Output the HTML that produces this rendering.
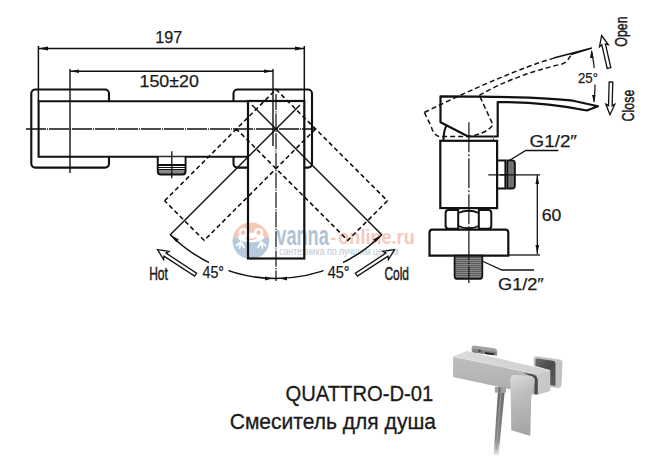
<!DOCTYPE html>
<html><head><meta charset="utf-8">
<style>
html,body{margin:0;padding:0;background:#fff;}
body{width:650px;height:474px;overflow:hidden;}
svg{display:block;}
text{font-family:"Liberation Sans",sans-serif;}
</style></head>
<body>
<svg width="650" height="474" viewBox="0 0 650 474">
<defs>
<linearGradient id="gTop" x1="0" y1="0" x2="1" y2="0">
<stop offset="0" stop-color="#d9d9d9"/><stop offset="1" stop-color="#bfbfbf"/>
</linearGradient>
</defs>
<rect width="650" height="474" fill="#fff"/>

<!-- ===== WATERMARK ===== -->
<g opacity="1">
  <clipPath id="cl"><circle cx="250.9" cy="240.8" r="18.4"/></clipPath>
  <g clip-path="url(#cl)">
    <rect x="230" y="220" width="45" height="18" fill="#f6c8b8"/>
    <rect x="230" y="238" width="45" height="24" fill="#b6cadb"/>
    <!-- frog face -->
    <ellipse cx="251" cy="237.5" rx="13" ry="4.8" fill="#fff"/>
    <circle cx="243.2" cy="232.6" r="4.6" fill="#fff"/>
    <circle cx="258.6" cy="232.6" r="4.6" fill="#fff"/>
    <circle cx="243.2" cy="232.6" r="2.3" fill="#f3c4b4"/>
    <circle cx="258.6" cy="232.6" r="2.3" fill="#f3c4b4"/>
    <path d="M245.5,237.8 Q251,240.8 256.5,237.8" stroke="#f0b4a2" stroke-width="1.2" fill="none"/>
    <path d="M241,242 L236.5,245.5 M241,242 L239.5,248 M241,242 L244,247.5" stroke="#fff" stroke-width="1.8" fill="none" stroke-linecap="round"/>
    <path d="M261,242 L265.5,245.5 M261,242 L262.5,248 M261,242 L258,247.5" stroke="#fff" stroke-width="1.8" fill="none" stroke-linecap="round"/>
  </g>
  <text x="276.3" y="244.5" font-size="27" font-weight="bold" textLength="52.5" lengthAdjust="spacingAndGlyphs" fill="#b0c3d5">vanna</text>
  <text x="330.2" y="244.2" font-size="19" font-weight="bold" textLength="6" lengthAdjust="spacingAndGlyphs" fill="#f4cabd">-</text>
  <text x="338.3" y="244.2" font-size="19.5" font-weight="bold" textLength="76.4" lengthAdjust="spacingAndGlyphs" fill="#f4cabd">online.ru</text>
  <text x="279.2" y="254.9" font-size="10" textLength="119.2" lengthAdjust="spacingAndGlyphs" fill="#b9c7d5">сантехника по лучшим ценам</text>
</g>

<!-- ===== FRONT VIEW ===== -->
<g fill="none" stroke="#111" stroke-linecap="butt">
  <!-- dimension 197 -->
  <line x1="38.4" y1="48.5" x2="304.3" y2="48.5" stroke-width="1.6"/>
  <line x1="38.4" y1="46" x2="38.4" y2="101" stroke-width="1.5"/>
  <line x1="304.3" y1="46" x2="304.3" y2="101" stroke-width="1.5"/>
  <!-- dimension 150 -->
  <line x1="70" y1="71.2" x2="273" y2="71.2" stroke-width="1.6"/>
  <line x1="70" y1="69" x2="70" y2="173" stroke-width="1.4"/>
  <line x1="273" y1="69" x2="273" y2="146" stroke-width="1.4"/>

  <!-- left flange -->
  <path d="M109,101.3 V93.5 A4,4 0 0 0 105,89.5 H35.3 A4,4 0 0 0 31.3,93.5 V163.6 A4,4 0 0 0 35.3,167.6 H105 A4,4 0 0 0 109,163.6 V156.8" stroke-width="2.1"/>
  <!-- body -->
  <path d="M248,101.3 H38.6 V156.8 H248" stroke-width="2.1"/>
  <!-- right flange -->
  <path d="M233.5,101.3 V93.5 A4,4 0 0 1 237.5,89.5 H308 A4,4 0 0 1 312,93.5 V163.6 A4,4 0 0 1 308,167.6 H304.3" stroke-width="2.1"/>
  <path d="M233.5,156.8 V163.6 A4,4 0 0 0 237.5,167.6 H248" stroke-width="2.1"/>
  <!-- lever rect -->
  <rect x="248" y="101" width="56.3" height="157.5" stroke-width="2.2"/>

  <!-- diagonals -->
  <line x1="252" y1="105" x2="382" y2="235" stroke-width="1.5"/>
  <line x1="300" y1="105" x2="170" y2="235" stroke-width="1.5"/>

  <!-- rotated dashed rectangles -->
  <path d="M164.6,200.8 L276,89.4 L387.4,200.8 L347.8,240.4 L236.4,129" stroke-width="1.6" stroke-dasharray="4.5 3"/>
  <path d="M315.6,129 L204.2,240.4 L164.6,200.8" stroke-width="1.6" stroke-dasharray="4.5 3"/>

  <!-- center lines -->
  <line x1="26" y1="129" x2="316" y2="129" stroke-width="1.6" stroke-dasharray="20 1 1 1"/>
  <line x1="276" y1="94" x2="276" y2="281" stroke-width="1.2" stroke-dasharray="16 1.2 1.2 1.2"/>

  <!-- arc -->
  <path d="M170.3,234.7 A149.5,149.5 0 0 0 381.7,234.7" stroke-width="1.5"/>

  <!-- nut -->
  <path d="M157.8,156.8 V171.6 Q157.8,174.6 160.8,174.6 H182.5 Q185.5,174.6 185.5,171.6 V156.8" stroke-width="2" fill="#888"/>
  <rect x="158.8" y="157.5" width="25.7" height="12.5" fill="#fff" stroke="none"/>
  <line x1="157.8" y1="165" x2="185.5" y2="165" stroke-width="2"/>
  <line x1="157.8" y1="167.5" x2="185.5" y2="167.5" stroke-width="1"/>
  <line x1="157.8" y1="169.5" x2="185.5" y2="169.5" stroke-width="1"/>
  <line x1="171.8" y1="151.3" x2="171.8" y2="178.3" stroke-width="1.3"/>
</g>
<!-- arrowheads -->
<g fill="#111">
  <polygon points="38.5,48.5 48,46.6 48,50.4"/>
  <polygon points="304,48.5 295,46.6 295,50.4"/>
  <polygon points="70.5,71.2 79,69.4 79,73"/>
  <polygon points="272.5,71.2 264,69.4 264,73"/>
  <polygon points="272,278.5 265,276.6 265,280.4"/>
  <polygon points="280,278.5 287,276.6 287,280.4"/>
</g>

<!-- texts front -->
<rect x="209" y="259" width="19.5" height="20" fill="#fff"/>
<rect x="323.5" y="259" width="19.5" height="20" fill="#fff"/>
<g fill="#111">
  <polygon points="170.3,234.7 178.8,239.5 176.3,242.2"/>
  <polygon points="381.7,234.7 373.2,239.5 375.7,242.2"/>
</g>
<g fill="#1b1b1b" stroke="#1b1b1b" stroke-width="0.25">
  <text x="155.3" y="43" font-size="17" textLength="27" lengthAdjust="spacingAndGlyphs">197</text>
  <text x="139.5" y="86.5" font-size="17" textLength="59.3" lengthAdjust="spacingAndGlyphs">150±20</text>
  <text x="149.2" y="279.5" font-size="18.5" textLength="18.7" lengthAdjust="spacingAndGlyphs" stroke-width="0.5">Hot</text>
  <text x="384.4" y="280" font-size="18.5" textLength="24.6" lengthAdjust="spacingAndGlyphs" stroke-width="0.5">Cold</text>
  <text x="202.5" y="278" font-size="15.7" textLength="21.5" lengthAdjust="spacingAndGlyphs">45°</text>
  <text x="327.7" y="278" font-size="15.7" textLength="22" lengthAdjust="spacingAndGlyphs">45°</text>
</g>

<!-- ===== SIDE VIEW ===== -->
<g fill="none" stroke="#111">
  <!-- handle + lever -->
  <path d="M440.5,122.3 V96.4 C500,96.4 545,97 573,100.7 L598,106.2 L586.9,110.5 C560,105 530,102 497.7,102 V136.5 H468.2 Z" stroke-width="2.2" stroke-linejoin="round"/>
  <path d="M443.5,140.5 Q443.5,131 446.5,125.5" stroke-width="2"/>
  <line x1="493.4" y1="136.5" x2="493.4" y2="140.8" stroke="#777" stroke-width="1.2"/>
  <!-- body -->
  <rect x="440.3" y="140.8" width="56.8" height="67.3" stroke-width="2.2"/>
  <!-- outlet -->
  <path d="M497,160.4 H505.4 V188.5 H497" stroke-width="2"/>
  <!-- hex nut -->
  <path d="M448.6,210 H458.2 V228.7 H448.6 Q445.6,228.7 445.6,225.7 V213 Q445.6,210 448.6,210 Z" stroke-width="2"/>
  <path d="M478.8,210 H488.3 Q491.3,210 491.3,213 V225.7 Q491.3,228.7 488.3,228.7 H478.8 Z" stroke-width="2"/>
  <path d="M458.2,213 Q468.8,208.5 478.8,213 M458.2,226 Q468.8,230.5 478.8,226" stroke-width="1.8"/>
  <!-- flange -->
  <path d="M432.5,229.6 H505.3 Q508.3,229.6 508.3,232.6 V255.6 H429.5 V232.6 Q429.5,229.6 432.5,229.6 Z" stroke-width="2.2"/>
  <!-- dimension 60 -->
  <line x1="488.3" y1="174.9" x2="540" y2="174.9" stroke-width="1.3"/>
  <line x1="508" y1="255" x2="540" y2="255" stroke-width="1.3"/>
  <line x1="537.3" y1="175" x2="537.3" y2="254" stroke-width="1.3"/>
  <!-- leaders -->
  <polyline points="509.2,160.5 525.8,150.5 558.4,150.5" stroke-width="1.3"/>
  <polyline points="482,261 502,270 534,270" stroke-width="1.3"/>
  <!-- dashed rotated handle -->
  <path d="M424.3,112.5 L431,126 Q434,136.5 440,136.5 H468 Q486,134 493,124.8 L479.3,95.3 M424.3,112.5 Q506.3,72.3 553.7,58.1 M479.3,95.3 Q514.6,75 562,64 Q568,62 571,54.4" stroke-width="1.5" stroke-dasharray="5 3"/>
  <polyline points="553.7,58.1 591.9,47.9 571,54.4" stroke-width="1.6"/>
  <!-- 25 deg arc -->
  <path d="M591.6,51 Q597,76 594,102" stroke-width="1.2"/>
</g>
<!-- outlet thread -->
<path d="M507.3,160.4 H511.9 Q514.9,160.4 514.9,163.4 V185.5 Q514.9,188.5 511.9,188.5 H507.3 Z" fill="#5c5c5c" stroke="#111" stroke-width="1.8"/>
<g stroke="#9a9a9a" stroke-width="0.6">
  <line x1="509.2" y1="161.5" x2="509.2" y2="187.5"/>
  <line x1="511" y1="161.5" x2="511" y2="187.5"/>
  <line x1="512.8" y1="161.5" x2="512.8" y2="187.5"/>
</g>
<!-- pipe thread -->
<path d="M454.6,255.6 V275.9 Q454.6,278.9 457.6,278.9 H479.3 Q482.3,278.9 482.3,275.9 V255.6 Z" fill="#5c5c5c" stroke="#111" stroke-width="1.8"/>
<g stroke="#a8a8a8" stroke-width="0.6">
  <line x1="455.5" y1="258.5" x2="481.4" y2="258.5"/>
  <line x1="455.5" y1="260.5" x2="481.4" y2="260.5"/>
  <line x1="455.5" y1="262.5" x2="481.4" y2="262.5"/>
  <line x1="455.5" y1="264.5" x2="481.4" y2="264.5"/>
  <line x1="455.5" y1="266.5" x2="481.4" y2="266.5"/>
  <line x1="455.5" y1="268.5" x2="481.4" y2="268.5"/>
  <line x1="455.5" y1="270.5" x2="481.4" y2="270.5"/>
  <line x1="455.5" y1="272.5" x2="481.4" y2="272.5"/>
  <line x1="455.5" y1="274.5" x2="481.4" y2="274.5"/>
  <line x1="455.5" y1="276.5" x2="481.4" y2="276.5"/>
</g>
<line x1="500" y1="174.9" x2="516" y2="174.9" stroke="#111" stroke-width="1.3"/>
<!-- side centerline -->
<line x1="468.9" y1="122.3" x2="468.9" y2="283" stroke="#111" stroke-width="1.2" stroke-dasharray="30 2 2 2"/>
<g fill="#111">
  <polygon points="537.3,175 535.5,184 539.1,184"/>
  <polygon points="537.3,254 535.5,245 539.1,245"/>
  <polygon points="591.6,50 590,58 593.6,58"/>
  <polygon points="594,102.5 592,95 595.6,95"/>
</g>
<!-- open/close arrows -->
<g fill="#fff" stroke="#111" stroke-width="1.3" stroke-linejoin="miter">
  <path d="M601.6,35.5 L608.3,44.7 L605.4,43.9 L610.8,67.6 L607.2,68.4 L601.8,44.7 L599.5,46.7 Z"/>
  <path d="M610.0,114.7 L605.8,104.1 L608.5,105.6 L609.2,81.9 L612.8,82.1 L612.1,105.8 L614.8,104.3 Z"/>
  <path d="M157.5,249.7 L169.0,251.3 L166.0,253.1 L196.6,273.1 L194.6,276.1 L164.0,256.1 L163.6,259.6 Z"/>
  <path d="M394.5,249.7 L388.4,259.6 L388.0,256.1 L357.4,276.1 L355.4,273.1 L386.0,253.1 L383.0,251.3 Z"/>
</g>
<rect x="576" y="68" width="23.5" height="16.5" fill="#fff"/>
<g fill="#1b1b1b" stroke="#1b1b1b" stroke-width="0.25">
  <text x="529.6" y="147.4" font-size="17" textLength="47.4" lengthAdjust="spacingAndGlyphs">G1/2″</text>
  <text x="498" y="290" font-size="17" textLength="45.8" lengthAdjust="spacingAndGlyphs">G1/2″</text>
  <text x="541.7" y="221.4" font-size="16.5" textLength="19.6" lengthAdjust="spacingAndGlyphs">60</text>
  <text x="578" y="83" font-size="15" textLength="20" lengthAdjust="spacingAndGlyphs">25°</text>
  <text transform="translate(627.3,46.7) rotate(-90)" font-size="17" textLength="30.4" lengthAdjust="spacingAndGlyphs" stroke-width="0.5">Open</text>
  <text transform="translate(634.4,121.4) rotate(-90)" font-size="17" textLength="31.7" lengthAdjust="spacingAndGlyphs" stroke-width="0.5">Close</text>
</g>

<!-- ===== TITLE ===== -->
<g fill="#1a1a1a" stroke="#1a1a1a" stroke-width="0.3">
  <text x="285.5" y="400.5" font-size="22.8" textLength="147.8" lengthAdjust="spacingAndGlyphs">QUATTRO-D-01</text>
  <text x="229.7" y="429" font-size="21.5" textLength="206.3" lengthAdjust="spacingAndGlyphs">Смеситель для душа</text>
</g>

<!-- ===== PHOTO ===== -->
<defs>
  <linearGradient id="pFront" x1="0" y1="0" x2="0" y2="1">
    <stop offset="0" stop-color="#bebebe"/><stop offset="0.6" stop-color="#b4b4b4"/><stop offset="1" stop-color="#a8a8a8"/>
  </linearGradient>
  <linearGradient id="pTop" x1="0" y1="0" x2="1" y2="0">
    <stop offset="0" stop-color="#dcdcdc"/><stop offset="1" stop-color="#d0d0d0"/>
  </linearGradient>
  <linearGradient id="pHandle" x1="0" y1="0" x2="0.2" y2="1">
    <stop offset="0" stop-color="#dcdcdc"/><stop offset="0.35" stop-color="#c0c0c0"/><stop offset="1" stop-color="#a6a6a6"/>
  </linearGradient>
  <linearGradient id="pHose" x1="0" y1="0" x2="0" y2="1">
    <stop offset="0" stop-color="#6e6e6e"/><stop offset="0.75" stop-color="#888"/><stop offset="1" stop-color="#e4e4e4"/>
  </linearGradient>
  <linearGradient id="pFlange" x1="0" y1="0" x2="1" y2="1">
    <stop offset="0" stop-color="#6a6a6a"/><stop offset="0.5" stop-color="#4a4a4a"/><stop offset="1" stop-color="#5e5e5e"/>
  </linearGradient>
</defs>
<g>
  <!-- back left flange -->
  <path d="M471.7,352.4 V347.5 Q471.7,345.3 474.5,345.5 L494.5,348.2 Q497.2,348.7 497.2,351 V355.6 Z" fill="#a2a2a2"/>
  <polygon points="472.5,349 496.5,352 496.5,355.4 472.5,352.2" fill="#7e7e7e"/>
  <circle cx="479.5" cy="350.8" r="1.4" fill="#4a4a4a"/>
  <polygon points="485,352 494,353.2 494,355.3 485,354" fill="#2e2e2e"/>
  <!-- right flange -->
  <path d="M533.7,366 V358.5 Q533.7,356 536.7,356.2 L559.5,359.5 Q562.5,360 562.5,363 L561.6,384 Q561.4,388 558,388 L550,387 V370 Z" fill="#c2c2c2"/>
  <path d="M535.5,366 V360 Q535.5,358.3 537.5,358.5 L553,360.8 Q555.5,361.2 555.5,363.5 L555.5,386 L550,385 V370 Z" fill="url(#pFlange)"/>
  <!-- body top face -->
  <polygon points="453.1,356.6 466.6,351 550.3,370.5 537.5,374.5" fill="url(#pTop)"/>
  <line x1="453.3" y1="356.8" x2="537.5" y2="374.6" stroke="#e8e8e8" stroke-width="0.9"/>
  <!-- body front face -->
  <polygon points="453.1,356.8 537.5,374.6 537.5,395 453.1,377" fill="url(#pFront)"/>
  <!-- body end face -->
  <polygon points="537.5,374.5 550.3,370.5 550.3,391 537.5,395" fill="#c8c8c8"/>
  <!-- dark gap near handle -->
  <path d="M523.7,372.7 L532,374.3 Q537.5,375.5 537.8,380 V394 L534.5,394.5 V381 Q534,376.5 529,375.6 Z" fill="#4a4a4a"/>
  <!-- hose connector -->
  <rect x="494.9" y="387" width="11.1" height="5.6" fill="#a0a0a0"/>
  <rect x="498.5" y="387" width="2" height="5.6" fill="#6e6e6e"/>
  <!-- hose -->
  <path d="M497.8,392.6 L504.6,392.6 L498.6,455 L493.6,455 Z" fill="url(#pHose)"/>
  <line x1="501" y1="393" x2="496.3" y2="450" stroke="#9e9e9e" stroke-width="1"/>
  <!-- handle -->
  <path d="M510.4,379.5 Q510.6,374.9 514.5,374.9 L530,375.8 Q534.5,376.3 534.8,380.5 L531.2,399 L530.3,436 L511.3,430.3 L510.6,392 Z" fill="url(#pHandle)"/>
</g>
</svg>
</body></html>
